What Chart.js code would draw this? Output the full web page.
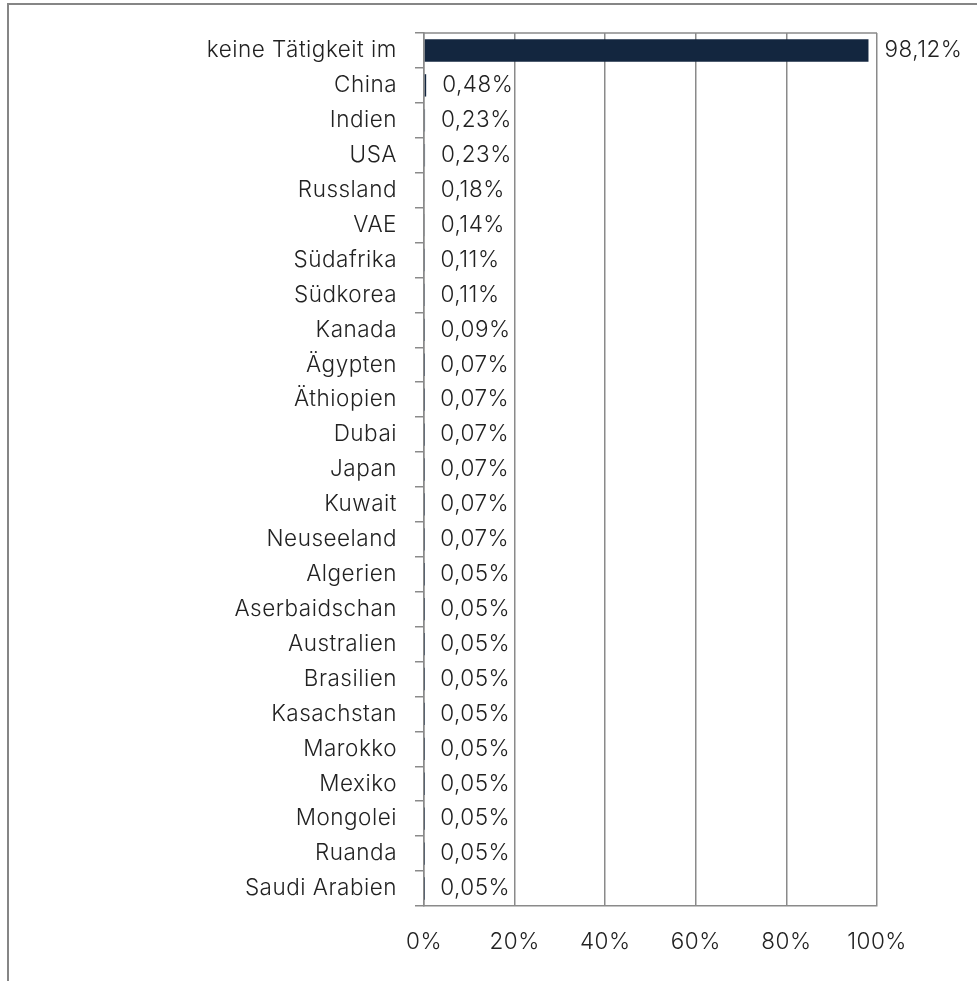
<!DOCTYPE html>
<html><head><meta charset="utf-8">
<script src="https://cdn.jsdelivr.net/npm/chart.js@4"></script>
<style>
html,body{margin:0;padding:0;background:#fff;overflow:hidden}
#frame{position:absolute;left:7px;top:3px;width:1000px;height:1000px;border-top:2px solid #868686;border-left:2px solid #868686;box-sizing:border-box}
#wrap{position:absolute;left:0;top:0;width:977px;height:981px}
</style></head>
<body>
<div id="frame"></div>
<div id="wrap"><canvas id="c" width="977" height="981"></canvas></div>
<script>
const categories = ["keine Tätigkeit im","China","Indien","USA","Russland","VAE","Südafrika","Südkorea","Kanada","Ägypten","Äthiopien","Dubai","Japan","Kuwait","Neuseeland","Algerien","Aserbaidschan","Australien","Brasilien","Kasachstan","Marokko","Mexiko","Mongolei","Ruanda","Saudi Arabien"];
const values = [98.12,0.48,0.23,0.23,0.18,0.14,0.11,0.11,0.09,0.07,0.07,0.07,0.07,0.07,0.07,0.05,0.05,0.05,0.05,0.05,0.05,0.05,0.05,0.05,0.05];
const xTicks = [0,20,40,60,80,100];

const FONT = {family:"Inter", weight:"300", size:22.5};
const SPACING = "0.5px";
const GRID = "#8a8a8a";
const TEXT = "#222222";

const labelPlugin = {
  id:"vals",
  beforeInit(chart){ chart.ctx.letterSpacing = SPACING; },
  beforeLayout(chart){ chart.ctx.letterSpacing = SPACING; },
  beforeDraw(chart){ chart.ctx.letterSpacing = SPACING; },
  afterDatasetsDraw(chart){
    const ctx = chart.ctx;
    const meta = chart.getDatasetMeta(0);
    ctx.save();
    ctx.letterSpacing = SPACING;
    ctx.font = `${FONT.weight} ${FONT.size}px ${FONT.family}`;
    ctx.fillStyle = TEXT;
    ctx.textAlign = "left";
    ctx.textBaseline = "middle";
    meta.data.forEach((bar,i)=>{
      const v = values[i];
      ctx.fillText(v.toFixed(2).replace(".",",")+"%", bar.x + 16, bar.y);
    });
    ctx.restore();
  },
  beforeDatasetsDraw(chart){
    const ctx = chart.ctx, a = chart.chartArea;
    ctx.save();
    ctx.strokeStyle = GRID; ctx.lineWidth = 1.5;
    ctx.beginPath(); ctx.moveTo(a.left, a.top); ctx.lineTo(a.right, a.top); ctx.stroke();
    ctx.restore();
  }
};

new Chart(document.getElementById("c"), {
  type:"bar",
  data:{labels:categories, datasets:[{data:values, backgroundColor:"#13263f", categoryPercentage:1, barPercentage:0.64}]},
  options:{
    indexAxis:"y",
    responsive:false,
    animation:false,
    layout:{padding:{left:0,right:100,top:33,bottom:0}},
    plugins:{legend:{display:false}, tooltip:{enabled:false}},
    scales:{
      x:{
        min:0, max:100,
        afterFit(s){ s.height = 75; },
        afterBuildTicks(s){ s.ticks = xTicks.map(v=>({value:v})); },
        ticks:{callback:v=>v+"%", padding:23, color:TEXT, font:FONT, maxRotation:0},
        grid:{color:GRID, lineWidth:1.5, drawTicks:false},
        border:{display:true, color:GRID, width:1.5}
      },
      y:{
        afterFit(s){ s.width = 424; },
        ticks:{padding:18, color:TEXT, font:FONT, autoSkip:false},
        grid:{drawOnChartArea:false, drawTicks:true, tickLength:9, color:GRID, lineWidth:1.5, offset:true},
        border:{display:true, color:GRID, width:1.5}
      }
    }
  },
  plugins:[labelPlugin]
});
</script>
</body></html>
